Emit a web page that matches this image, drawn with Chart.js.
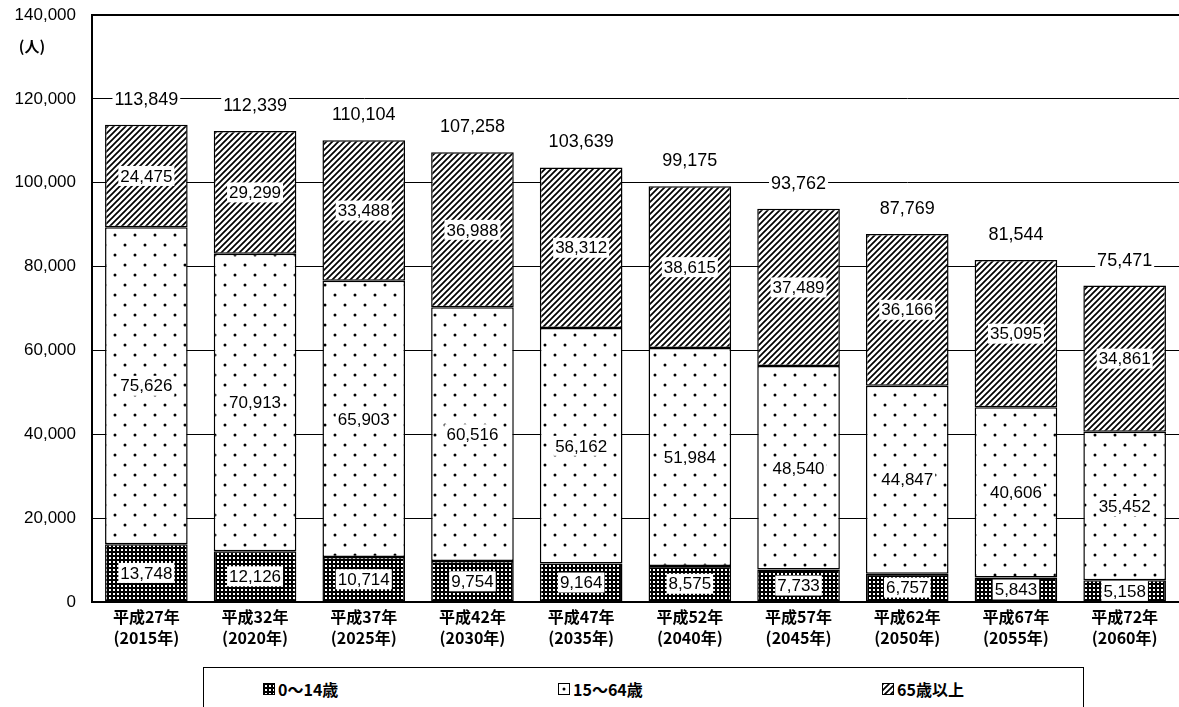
<!DOCTYPE html>
<html>
<head>
<meta charset="utf-8">
<script src="https://cdn.jsdelivr.net/npm/chart.js@4"></script>
<style>
  body { margin: 0; background: #fff; overflow: hidden; width: 1179px; height: 707px; position: relative; }
  #wrap { position: absolute; left: 0; top: 0; width: 1179px; height: 662px; }
  #legend { position: absolute; left: 203px; top: 667px; width: 879px; height: 60px; border: 1.5px solid #000;
            font: bold 16px "Noto Sans CJK JP", sans-serif; color: #000; }
  .item { position: absolute; top: 9px; display: flex; align-items: center; }
  .item canvas { width: 10px; height: 10px; border: 1px solid #000; margin-right: 3px; }
</style>
</head>
<body>
<div id="wrap"><canvas id="mycanvas"></canvas></div>
<div id="legend"></div>
<script>
// data
var categories = [
  ['平成27年', '(2015年)'], ['平成32年', '(2020年)'], ['平成37年', '(2025年)'],
  ['平成42年', '(2030年)'], ['平成47年', '(2035年)'], ['平成52年', '(2040年)'],
  ['平成57年', '(2045年)'], ['平成62年', '(2050年)'], ['平成67年', '(2055年)'],
  ['平成72年', '(2060年)']
];
var seriesNames = ['0～14歳', '15～64歳', '65歳以上'];
var age0to14 = [13748, 12126, 10714, 9754, 9164, 8575, 7733, 6757, 5843, 5158];
var age15to64 = [75626, 70913, 65903, 60516, 56162, 51984, 48540, 44847, 40606, 35452];
var age65plus = [24475, 29299, 33488, 36988, 38312, 38615, 37489, 36166, 35095, 34861];
var totals = [113849, 112339, 110104, 107258, 103639, 99175, 93762, 87769, 81544, 75471];
var yMax = 140000;
var yStep = 20000;
var yUnit = '(人)';

function fmt(v) { return v.toLocaleString('en-US'); }

// black & white fill patterns like the printed chart
function makePattern(kind) {
  var c = document.createElement('canvas');
  var g = c.getContext('2d');
  if (kind === 'dense') {
    c.width = c.height = 4;
    g.fillStyle = '#000'; g.fillRect(0, 0, 4, 4);
    g.fillStyle = '#fff'; g.fillRect(1, 1, 2, 2);
  } else if (kind === 'dots') {
    c.width = c.height = 20;
    g.fillStyle = '#fff'; g.fillRect(0, 0, 20, 20);
    g.fillStyle = '#000';
    g.beginPath(); g.arc(5, 5, 1.5, 0, Math.PI * 2); g.fill();
    g.beginPath(); g.arc(15, 15, 1.5, 0, Math.PI * 2); g.fill();
  } else {
    c.width = c.height = 6;
    g.fillStyle = '#fff'; g.fillRect(0, 0, 6, 6);
    g.strokeStyle = '#000'; g.lineWidth = 1.7;
    g.beginPath();
    g.moveTo(0, 6); g.lineTo(6, 0);
    g.moveTo(-1, 1); g.lineTo(1, -1);
    g.moveTo(5, 7); g.lineTo(7, 5);
    g.stroke();
  }
  return g.createPattern(c, 'repeat');
}

var patterns = [makePattern('dense'), makePattern('dots'), makePattern('hatch')];

// html legend in a box under the chart
var legendLeft = [59, 354, 678];
var legendEl = document.getElementById('legend');
seriesNames.forEach(function(name, i) {
  var item = document.createElement('div');
  item.className = 'item';
  item.style.left = legendLeft[i] + 'px';
  var sw = document.createElement('canvas');
  sw.width = 10; sw.height = 10;
  var sg = sw.getContext('2d');
  sg.fillStyle = patterns[i]; sg.fillRect(0, 0, 10, 10);
  item.appendChild(sw);
  var t = document.createElement('span');
  t.textContent = name;
  item.appendChild(t);
  legendEl.appendChild(item);
});

function labelBox(ctx, text, x, y, font) {
  ctx.font = font;
  var w = ctx.measureText(text).width;
  ctx.fillStyle = '#fff';
  ctx.fillRect(x - w / 2 - 2, y - 10, w + 4, 20);
  ctx.fillStyle = '#000';
  ctx.fillText(text, x, y + 1);
}

var labelPlugin = {
  id: 'labels',
  afterDatasetsDraw: function(chart) {
    var ctx = chart.ctx;
    ctx.save();
    ctx.textAlign = 'center';
    ctx.textBaseline = 'middle';
    chart.data.datasets.forEach(function(ds, i) {
      chart.getDatasetMeta(i).data.forEach(function(bar, j) {
        labelBox(ctx, fmt(ds.data[j]), bar.x, (bar.y + bar.base) / 2, '17px "Liberation Sans"');
      });
    });
    var top = chart.getDatasetMeta(chart.data.datasets.length - 1).data;
    top.forEach(function(bar, j) {
      labelBox(ctx, fmt(totals[j]), bar.x, bar.y - 26, '18px "Liberation Sans"');
    });
    // unit under the top tick
    var ys = chart.scales.y;
    ctx.font = 'bold 15px "Noto Sans CJK JP"';
    ctx.fillStyle = '#000';
    ctx.fillText(yUnit, 32, ys.getPixelForValue(yMax) + 31);
    ctx.restore();
  }
};

var chartdata = {
  labels: categories,
  datasets: [age0to14, age15to64, age65plus].map(function(d, i) {
    return {
      label: seriesNames[i],
      data: d,
      backgroundColor: patterns[i],
      borderColor: '#000',
      borderWidth: 1.5,
      borderSkipped: false,
      barPercentage: 0.76,
      categoryPercentage: 1
    };
  })
};

var ctx = document.getElementById('mycanvas');
var barGraph = new Chart(ctx, {
  type: 'bar',
  data: chartdata,
  plugins: [labelPlugin],
  options: {
    responsive: true,
    maintainAspectRatio: false,
    animation: false,
    layout: { padding: { top: 15, right: 0, left: 0, bottom: 0 } },
    plugins: { legend: { display: false }, tooltip: { enabled: false } },
    scales: {
      x: {
        stacked: true,
        grid: { display: false, drawTicks: false },
        border: { display: true, color: '#000', width: 2 },
        ticks: { color: '#000', padding: 5, font: { family: 'Noto Sans CJK JP', size: 16, weight: 'bold', lineHeight: 1.3 } },
        afterFit: function(s) { s.height = 60; s.paddingLeft = 0; s.paddingRight = 0; }
      },
      y: {
        stacked: true,
        min: 0,
        max: yMax,
        ticks: {
          stepSize: yStep,
          color: '#000',
          padding: 16,
          font: { family: 'Liberation Sans', size: 17 },
          callback: function(v) { return fmt(v); }
        },
        grid: {
          color: '#000',
          drawTicks: false,
          lineWidth: function(c) { return c.tick && c.tick.value === yMax ? 2 : 1; }
        },
        border: { color: '#000', width: 2 },
        afterFit: function(s) { s.width = 92; s.paddingTop = 0; s.paddingBottom = 0; }
      }
    }
  }
});
</script>
</body>
</html>
